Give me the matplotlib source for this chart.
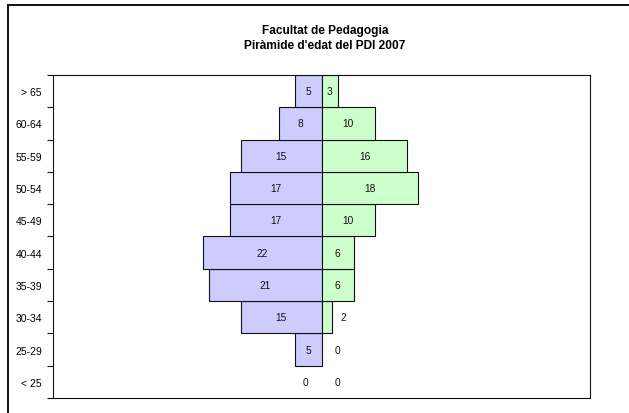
import matplotlib
matplotlib.use("Agg")
import matplotlib.pyplot as plt
from matplotlib.patches import Rectangle

plt.rcParams['font.family'] = ['Liberation Sans', 'DejaVu Sans']

# age groups, bottom to top
edats = ["< 25", "25-29", "30-34", "35-39", "40-44", "45-49", "50-54", "55-59", "60-64", "> 65"]
esquerra = [0, 5, 15, 21, 22, 17, 17, 15, 8, 5]   # blue side
dreta = [0, 0, 2, 6, 6, 10, 18, 16, 10, 3]        # green side

titol1 = "Facultat de Pedagogia"
titol2 = "Piràmide d'edat del PDI 2007"

W, H = 629, 414
fig = plt.figure(figsize=(W / 100, H / 100), dpi=100)

# outer chart frame (cut off at right and bottom like the screenshot)
frame = Rectangle((8 / W, -0.1), 1.2, 1 - 6 / H + 0.1, transform=fig.transFigure,
                  fill=False, edgecolor="#111111", linewidth=1.4, clip_on=False)
fig.patches.append(frame)

ax = fig.add_axes([53 / W, 1 - 399 / H, (590 - 53) / W, (399 - 76) / H])

ys = list(range(len(edats)))
# zero values get no bar (otherwise a stray edge line shows up at x=0)
yl = [y for y, v in zip(ys, esquerra) if v > 0]
vl = [-v for v in esquerra if v > 0]
yr = [y for y, v in zip(ys, dreta) if v > 0]
vr = [v for v in dreta if v > 0]
ax.barh(yl, vl, height=1.0, color="#CCCCFF", edgecolor="#111111", linewidth=0.8)
ax.barh(yr, vr, height=1.0, color="#CCFFCC", edgecolor="#111111", linewidth=0.8)

for y, v in zip(ys, esquerra):
    x = v / 2 if v >= 3 else v / 2 + 3
    ax.text(-x, y, str(v), ha="center", va="center", fontsize=7.3, color="#111111")
for y, v in zip(ys, dreta):
    x = v / 2 if v >= 3 else v / 2 + 3
    ax.text(x, y, str(v), ha="center", va="center", fontsize=7.3, color="#111111")

ax.set_xlim(-50, 50)
ax.set_ylim(-0.5, len(edats) - 0.5)
ax.set_xticks([])

# ticks between categories, labels centered on each category
ax.set_yticks([y - 0.5 for y in range(len(edats) + 1)])
ax.set_yticklabels([])
ax.set_yticks(ys, minor=True)
ax.set_yticklabels(edats, minor=True, fontsize=7.5)
ax.tick_params(axis="y", which="major", length=4, width=0.8, color="#111111", direction="out")
ax.tick_params(axis="y", which="minor", length=0, pad=8)

for s in ax.spines.values():
    s.set_linewidth(0.8)
    s.set_color("#111111")

fig.text(325 / W, 1 - 34 / H, titol1, ha="center", va="baseline", fontsize=8.6, fontweight="bold")
fig.text(325 / W, 1 - 49 / H, titol2, ha="center", va="baseline", fontsize=8.6, fontweight="bold")

fig.savefig("out.png", dpi=100)
